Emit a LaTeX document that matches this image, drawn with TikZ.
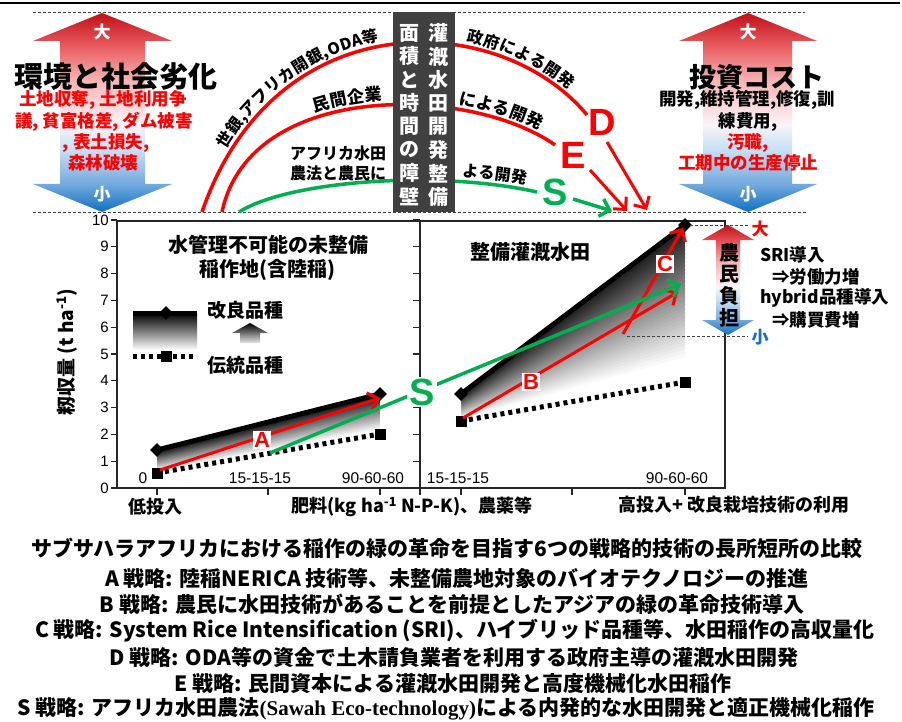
\documentclass[tikz,border=0pt]{standalone}
\usepackage{fontspec}
\setmainfont{Liberation Sans}
\newfontfamily\jp{Noto Sans CJK JP}
\newfontfamily\tms{Liberation Serif}
\usetikzlibrary{arrows.meta,shapes.geometric,decorations.text}
\newcommand\fz[1]{\fontsize{#1}{#1}\selectfont}
\definecolor{myred}{RGB}{255,0,0}
\definecolor{mygreen}{RGB}{0,176,80}
\definecolor{boxgray}{RGB}{64,64,64}
\definecolor{lblue}{RGB}{20,110,200}
\definecolor{ar0}{RGB}{192,16,24}
\definecolor{ar1}{RGB}{232,88,92}
\definecolor{ar2}{RGB}{247,180,180}
\definecolor{aw}{RGB}{250,244,248}
\definecolor{ab3}{RGB}{198,223,244}
\definecolor{ab4}{RGB}{112,168,221}
\definecolor{ab5}{RGB}{16,112,192}
\pgfdeclareverticalshading{bigarrow}{100bp}{color(0bp)=(ab5); color(25bp)=(ab5); color(31.8bp)=(ab4); color(40.6bp)=(ab3); color(47bp)=(aw); color(58bp)=(ar2); color(67bp)=(ar1); color(75bp)=(ar0); color(100bp)=(ar0)}
\newcommand\gradband[6]{%
\begin{scope}
\clip (#1,#2) -- (#4,#5) -- (#4,#6) -- (#1,#3) -- cycle;
\foreach \k in {40,39,...,0}{
 \pgfmathsetmacro\ya{#2+(#3-#2)*\k/40}
 \pgfmathsetmacro\yb{#5+(#6-#5)*\k/40}
 \pgfmathsetmacro\pc{max(0,88-2.6*\k)}
 \draw[line width=5pt, black!\pc] (#1,\ya) -- (#4,\yb);
}
\end{scope}}
\tikzset{
 J/.style={font=\jp\bfseries\fz{#1}, inner sep=0pt},
 L/.style={font=\bfseries\fz{#1}, inner sep=0pt},
 N/.style={font=\fz{#1}, inner sep=0pt},
 dashln/.style={densely dashed, line width=0.9pt, black!75},
 redcurve/.style={draw=myred, line width=3.5pt},
 greencurve/.style={draw=mygreen, line width=3.5pt},
 redarr/.style={draw=myred, line width=3pt, -{Straight Barb[length=9pt,width=18pt]}},
 greenarr/.style={draw=mygreen, line width=3.5pt, -{Straight Barb[length=9pt,width=18pt]}},
 axln/.style={line width=1.3pt, black!85},
 improved/.style={line width=5pt, black},
 trad/.style={line width=5pt, black, dash pattern=on 4pt off 4pt},
 dmark/.style={diamond, fill=black, inner sep=0pt, minimum size=14pt},
 smark/.style={rectangle, fill=black, inner sep=0pt, minimum size=11pt},
 lbox/.style={fill=white, text=myred, font=\bfseries\fz{22}, inner sep=1.5pt},
 bigletter/.style={font=\bfseries\fz{38}, inner sep=0pt},
 bottomline/.style={font=\jp\bfseries\fz{21}, inner sep=0pt},
 vchar/.style={font=\jp\bfseries\fz{20}, text=white, inner sep=0pt},
}
\begin{document}
\begin{tikzpicture}[x=1pt,y=-1pt]
\useasboundingbox (0,0) rectangle (902,722);
\fill[white] (0,0) rectangle (902,722);

% ---------- top frame lines
\draw[line width=2pt] (0,3) -- (900,3);
\draw[dashln] (33,12) -- (805,12);
\draw[dashln] (33,212) -- (807,212);

% ---------- big arrows
\shade[shading=bigarrow] (102,13) -- (172,41) -- (145,41) -- (145,184) -- (172,184) -- (102,212) -- (33,184) -- (60,184) -- (60,41) -- (33,41) -- cycle;
\shade[shading=bigarrow] (748,13) -- (817,41) -- (792,41) -- (792,184) -- (817,184) -- (748,212) -- (679,184) -- (703,184) -- (703,41) -- (679,41) -- cycle;
\node[J=17, text=white] (lbig) at (102,32) {大};
\node[J=17, text=white] (lsmall) at (102,194) {小};
\node[J=17, text=white] (rbig) at (748,32) {大};
\node[J=17, text=white] (rsmall) at (748,194) {小};

\node[J=29] (envT) at (116,77) {環境と社会劣化};
\node[J=17.5, text=myred] (env1) at (103,100) {土地収奪, 土地利用争};
\node[J=17.5, text=myred] (env2) at (104,122) {議, 貧富格差, ダム被害};
\node[J=17.5, text=myred] (env3) at (106,143) {, 表土損失,};
\node[J=17.5, text=myred] (env4) at (103,163) {森林破壊};

\node[J=27] (costT) at (757,77) {投資コスト};
\node[J=17.5] (cost1) at (747,100) {開発,維持管理,修復,訓};
\node[J=17.5] (cost2) at (748,122) {練費用,};
\node[J=17.5, text=myred] (cost3) at (748,143) {汚職,};
\node[J=17.5, text=myred] (cost4) at (748,163) {工期中の生産停止};

% ---------- curves
\coordinate (Ds) at (202,212); \coordinate (De) at (587,115);
\coordinate (Es) at (222,212); \coordinate (Ee) at (555,145);
\coordinate (Ss) at (239,212); \coordinate (Se) at (537,192);
\draw[redcurve] (Ds) .. controls (275,0) and (500,10) .. (De);
\draw[redcurve] (Es) .. controls (250,80) and (470,85) .. (Ee);
\draw[greencurve] (Ss) .. controls (290,180) and (440,170) .. (Se);

\path[decorate, decoration={text along path, raise=5pt, text align={left, left indent=66pt},
  text={|\jp\bfseries\fz{16}|世銀,アフリカ開銀,ODA等}}] (Ds) .. controls (275,0) and (500,10) .. (De);
\path[decorate, decoration={text along path, raise=5pt, text align={right, right indent=30pt},
  text={|\jp\bfseries\fz{16}|政府による開発}}] (Ds) .. controls (275,0) and (500,10) .. (De);
\path[decorate, decoration={text along path, raise=5pt, text align={left, left indent=140pt},
  text={|\jp\bfseries\fz{17}|民間企業}}] (Es) .. controls (250,80) and (470,85) .. (Ee);
\path[decorate, decoration={text along path, raise=5pt, text align={right, right indent=20pt},
  text={|\jp\bfseries\fz{17}|による開発}}] (Es) .. controls (250,80) and (470,85) .. (Ee);
\path[decorate, decoration={text along path, raise=5pt, text align={right, right indent=12pt},
  text={|\jp\bfseries\fz{16}|よる開発}}] (Ss) .. controls (290,180) and (440,170) .. (Se);
\node[J=16] (afr1) at (338,153) {アフリカ水田};
\node[J=16] (afr2) at (338,173) {農法と農民に};

% ---------- middle dark box
\fill[boxgray] (393,12) rectangle (455,212);
\foreach \c [count=\i from 0] in {面,積,と,時,間,の,障,壁}
  \node[vchar] (lc\i) at (409,33+23.4*\i) {\c};
\foreach \c [count=\i from 0] in {灌,漑,水,田,開,発,整,備}
  \node[vchar] (rc\i) at (438,33+23.4*\i) {\c};

% ---------- D E S labels and arrows
\node[bigletter, text=myred] (Dl) at (602,122) {D};
\node[bigletter, text=myred] (El) at (573,155) {E};
\node[bigletter, text=mygreen] (Sl) at (555,192) {S};
\coordinate (Dt) at (647,210); \coordinate (Et) at (627,211); \coordinate (St) at (612,211);
\draw[redarr] (607,142) -- (Dt);
\draw[redarr] (590,170) -- (Et);
\draw[greenarr] (573,199) -- (St);

% ---------- chart gradients
\gradband{157}{450}{473}{380}{394}{434}
\gradband{461}{394}{421}{685}{225}{382}

% ---------- chart frame
\draw[axln] (117,221) rectangle (725,488);
\draw[axln] (420,221) -- (420,488);
\foreach \v in {0,...,10}{
  \draw[axln] (111,488-26.8*\v) -- (117,488-26.8*\v);
  \draw[axln] (413,488-26.8*\v) -- (420,488-26.8*\v);
  \node[N=15, anchor=east] (yt\v) at (109,488-26.8*\v) {\v};
}
\foreach \x in {157,268,380,420,461,572,685}
  \draw[axln] (\x,488) -- (\x,495);
\node[N=15.5] (x0) at (143,478) {0};
\node[N=15.5] (x1) at (260,478) {15-15-15};
\node[N=15.5] (x2) at (373,478) {90-60-60};
\node[N=15.5] (x3) at (458,478) {15-15-15};
\node[N=15.5] (x4) at (677,478) {90-60-60};
\node[J=18] (xl1) at (155,507) {低投入};
\node[J=18] (xl2) at (412,507) {肥料(kg ha\textsuperscript{-1} N-P-K)、農薬等};
\node[J=18] (xl3) at (734,505) {高投入+ 改良栽培技術の利用};
\node[J=19, rotate=90] (ylab) at (67,352) {籾収量 (t ha\textsuperscript{-1})};

\node[J=20] (pt1) at (268,245) {水管理不可能の未整備};
\node[J=20] (pt2) at (267,270) {稲作地(含陸稲)};
\node[J=20] (pt3) at (530,252) {整備灌漑水田};

% ---------- data lines
\draw[trad] (157,473) -- (380,434);
\draw[trad] (461,421) -- (685,382);
\draw[improved] (157,450) -- (380,394);
\draw[improved] (461,394) -- (685,225);
\node[dmark] (d1) at (157,450) {};
\node[dmark] (d2) at (380,394) {};
\node[dmark] (d3) at (461,394) {};
\node[dmark] (d4) at (685,225) {};
\node[smark] (s1) at (157,473) {};
\node[smark] (s2) at (380,434) {};
\node[smark] (s3) at (461,421) {};
\node[smark] (s4) at (685,382) {};

% ---------- legend
\shade[top color=black, bottom color=white] (133,313) rectangle (197,350);
\draw[improved] (133,313) -- (197,313);
\node[dmark] (ld) at (166,313) {};
\draw[trad] (133,356) -- (197,356);
\node[smark] (ls) at (166,356) {};
\node[J=19] (lg1) at (245,310) {改良品種};
\node[J=19] (lg2) at (245,365) {伝統品種};
\shade[top color=black, bottom color=black!10] (250,323) -- (268,333) -- (260,333) -- (260,343) -- (240,343) -- (240,333) -- (232,333) -- cycle;

% ---------- farmer burden
\draw[dashln] (690,225) -- (748,225);
\draw[dashln] (627,336) -- (748,336);
\shade[shading=bigarrow] (728,225) -- (754,240) -- (740,240) -- (740,320) -- (754,320) -- (728,335) -- (702,320) -- (716,320) -- (716,240) -- (702,240) -- cycle;
\foreach \c [count=\i from 0] in {農,民,負,担}
  \node[J=20] (fb\i) at (729,253+21.7*\i) {\c};
\node[J=17, text=myred] (fbig) at (760,229) {大};
\node[J=17, text=lblue] (fsmall) at (760,337) {小};
\node[J=17.5, anchor=west] (r1) at (760,255) {SRI導入};
\node[J=17.5, anchor=west] (r2) at (772,277) {⇒労働力増};
\node[J=17.5, anchor=west] (r3) at (760,298) {hybrid品種導入};
\node[J=17.5, anchor=west] (r4) at (772,320) {⇒購買費増};

% ---------- strategy arrows in chart
\coordinate (As) at (160,470); \coordinate (Ae) at (380,398);
\coordinate (Bs) at (463,418); \coordinate (Be) at (678,292);
\coordinate (Cs) at (623,334); \coordinate (Ce) at (683,228);
\coordinate (Gs) at (270,453); \coordinate (Ge) at (681,284);
\draw[redarr] (As) -- (Ae);
\draw[redarr] (Bs) -- (Be);
\draw[redarr] (Cs) -- (Ce);
\draw[greenarr] (Gs) -- (Ge);
\node[lbox] (Al) at (262,440) {A};
\node[lbox] (Bl) at (531,382) {B};
\node[lbox] (Cl) at (665,264) {C};
\node[bigletter, text=mygreen, fill=white, inner sep=2pt] (Sc) at (422,392) {S};

% ---------- bottom text
\node[bottomline] (t0) at (447,548) {サブサハラアフリカにおける稲作の緑の革命を目指す6つの戦略的技術の長所短所の比較};
\node[bottomline] (tA) at (457,578) {A 戦略: 陸稲NERICA 技術等、未整備農地対象のバイオテクノロジーの推進};
\node[bottomline] (tB) at (452,604) {B 戦略: 農民に水田技術があることを前提としたアジアの緑の革命技術導入};
\node[bottomline] (tC) at (455,631) {C 戦略: System Rice Intensification (SRI)、ハイブリッド品種等、水田稲作の高収量化};
\node[bottomline] (tD) at (454,657) {D 戦略: ODA等の資金で土木請負業者を利用する政府主導の灌漑水田開発};
\node[bottomline] (tE) at (453,683) {E 戦略: 民間資本による灌漑水田開発と高度機械化水田稲作};
\node[bottomline] (tS) at (446,709) {S 戦略: アフリカ水田農法{\tms\bfseries (Sawah Eco-technology)}による内発的な水田開発と適正機械化稲作};
\end{tikzpicture}
\end{document}
